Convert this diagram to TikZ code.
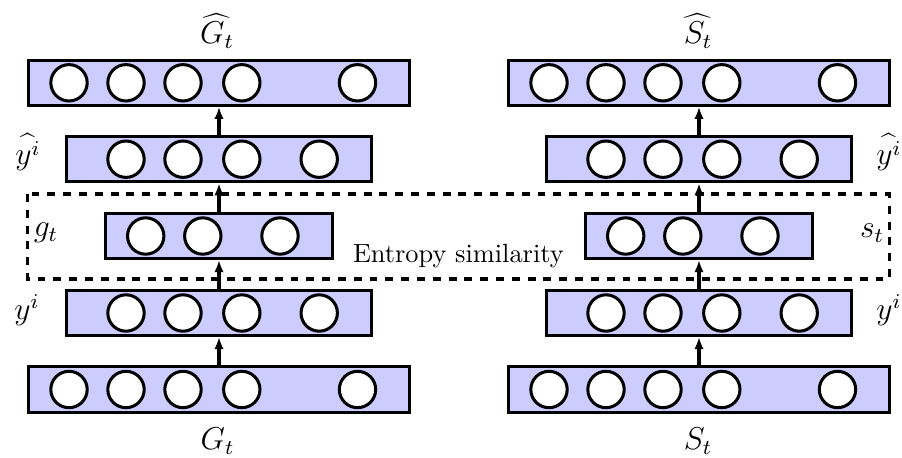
\documentclass[tikz,border=0pt]{standalone}
\usetikzlibrary{arrows.meta}
\begin{document}
\begin{tikzpicture}[x=0.3795pt,y=-0.3795pt,
  layer/.style={draw,fill=blue!20,line width=1.15pt,inner sep=0pt,minimum height=17.1pt},
  unit/.style={circle,draw,fill=white,line width=1.15pt,inner sep=0pt,minimum size=13.8pt},
  arr/.style={-{Latex[length=4.6pt,width=3.6pt]},line width=1.15pt},
  lab/.style={inner sep=0pt,font=\large},
  simbox/.style={dashed,line width=1.15pt}]
\useasboundingbox (0,0) rectangle (902,458);
\foreach \c/\cx in {G/219,S/699}{
  \node[layer,minimum width=144.7pt] (\c1) at (\cx,82.8) {};
  \node[layer,minimum width=115.5pt] (\c2) at (\cx,159.2) {};
  \node[layer,minimum width=86.2pt] (\c3) at (\cx,236) {};
  \node[layer,minimum width=115.5pt] (\c4) at (\cx,313) {};
  \node[layer,minimum width=144.7pt] (\c5) at (\cx,389.5) {};
  \foreach \dx [count=\i] in {-150,-93,-36,22.8,138.5}{
    \node[unit] (\c1u\i) at (\cx+\dx,82.8) {};
    \node[unit] (\c5u\i) at (\cx+\dx,389.5) {};
  }
  \foreach \dx [count=\i] in {-93,-36,22.8,100.2}{
    \node[unit] (\c2u\i) at (\cx+\dx,159.2) {};
    \node[unit] (\c4u\i) at (\cx+\dx,313) {};
  }
  \foreach \dx [count=\i] in {-73.3,-16.2,61}{
    \node[unit] (\c3u\i) at (\cx+\dx,236) {};
  }
  \draw[arr] (\c5) -- (\c4);
  \draw[arr] (\c4) -- (\c3);
  \draw[arr] (\c3) -- (\c2);
  \draw[arr] (\c2) -- (\c1);
}
\draw[simbox] (27.7,194) rectangle (889.3,279);
\node[lab] (Gh) at (217,31) {$\widehat{G_t}$};
\node[lab] (Sh) at (698,31) {$\widehat{S_t}$};
\node[lab] (Gb) at (217.5,441) {$G_t$};
\node[lab] (Sb) at (698,441) {$S_t$};
\node[lab] (yhl) at (28,152) {$\widehat{y^i}$};
\node[lab] (yhr) at (889,152) {$\widehat{y^i}$};
\node[lab] (yl) at (27,310) {$y^i$};
\node[lab] (yr) at (889,310) {$y^i$};
\node[lab] (gt) at (46,233) {$g_t$};
\node[lab] (st) at (872,233) {$s_t$};
\node[inner sep=0pt,anchor=base] (ent) at (458.4,263) {Entropy similarity};
\end{tikzpicture}
\end{document}
